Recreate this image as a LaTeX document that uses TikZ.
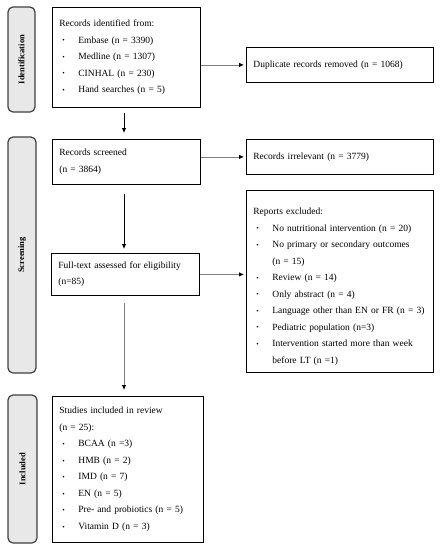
\documentclass[tikz,border=0pt]{standalone}
\usepackage{fontspec}
\setmainfont{Liberation Serif}
\usetikzlibrary{arrows.meta,calc}
\newcommand{\itm}[1]{\hspace*{3pt}\makebox[16pt][l]{\raisebox{0.3pt}{\fontsize{7}{7}\selectfont\textbullet}}\mbox{#1}}
\newcommand{\cont}[1]{\hspace*{19pt}\mbox{#1}}
\tikzset{
  box/.style={draw=black, line width=0.8pt, anchor=north west, inner xsep=7pt, inner ysep=0pt,
    align=left, font=\fontsize{9.5}{16.5}\selectfont},
  bar/.style={draw=black!75, fill=black!9, line width=1.2pt, rounded corners=5pt, inner sep=0pt,
    rotate=90, font=\fontsize{8.5}{10}\selectfont\bfseries},
  arr/.style={line width=0.8pt, draw=black, -{Latex[length=5pt,width=4.5pt,color=black]}},
  garr/.style={arr, draw=black!50}
}
\begin{document}
\begin{tikzpicture}[x=1pt,y=-1pt]
\useasboundingbox (0,0) rectangle (441,550);
% side bars
\node[bar, minimum width=105pt, minimum height=27pt] (bid) at (21.5,59.5) {Identification};
\node[bar, minimum width=236pt, minimum height=28pt] (bscr) at (22,255) {Screening};
\node[bar, minimum width=148pt, minimum height=29pt] (binc) at (22.5,469) {Included};
% boxes
\node[box, minimum width=148pt, minimum height=100pt, text width=134pt] (recid) at (52,7) {Records identified from:\\
\itm{Embase (n = 3390)}\\
\itm{Medline (n = 1307)}\\
\itm{CINHAL (n = 230)}\\
\itm{Hand searches (n = 5)}};
\node[box, minimum width=187pt, minimum height=35pt, text width=173pt] (dup) at (246,47) {Duplicate records removed (n = 1068)};
\node[box, minimum width=148pt, minimum height=45pt, text width=134pt] (scr) at (52,139) {Records screened\\(n = 3864)};
\node[box, minimum width=187pt, minimum height=35pt, text width=173pt] (irr) at (246,139) {Records irrelevant (n = 3779)};
\node[box, minimum width=187pt, minimum height=182pt, text width=173pt] (rep) at (246,190) {\rule{0pt}{17pt}Reports excluded:\\
\itm{No nutritional intervention (n = 20)}\\
\itm{No primary or secondary outcomes}\\
\cont{(n = 15)}\\
\itm{Review (n = 14)}\\
\itm{Only abstract (n = 4)}\\
\itm{Language other than EN or FR (n = 3)}\\
\itm{Pediatric population (n=3)}\\
\itm{Intervention started more than week}\\
\cont{before LT (n =1)}};
\node[box, minimum width=148pt, minimum height=42pt, text width=134pt] (ft) at (51,253) {Full-text assessed for eligibility\\(n=85)};
\node[box, minimum width=151pt, minimum height=146pt, text width=137pt] (stud) at (52,396) {Studies included in review\\
(n = 25):\\
\itm{BCAA (n =3)}\\
\itm{HMB (n = 2)}\\
\itm{IMD (n = 7)}\\
\itm{EN (n = 5)}\\
\itm{Pre- and probiotics (n = 5)}\\
\itm{Vitamin D (n = 3)}};
% connectors
\coordinate (col) at (124,0);
\draw[garr, shorten >=2pt] (recid.east |- dup.west) -- (dup.west);
\draw[garr, shorten >=2pt] (scr.east |- irr.west) -- (irr.west);
\draw[garr, shorten >=2pt] (ft.east) -- (ft.east -| rep.west);
\draw[arr, shorten <=5pt, shorten >=6pt] (recid.south -| col) -- (scr.north -| col);
\draw[arr, shorten <=9pt, shorten >=4pt] (scr.south -| col) -- (ft.north -| col);
\draw[garr, shorten <=7pt, shorten >=6pt] (ft.south -| col) -- (stud.north -| col);
\end{tikzpicture}
\end{document}
